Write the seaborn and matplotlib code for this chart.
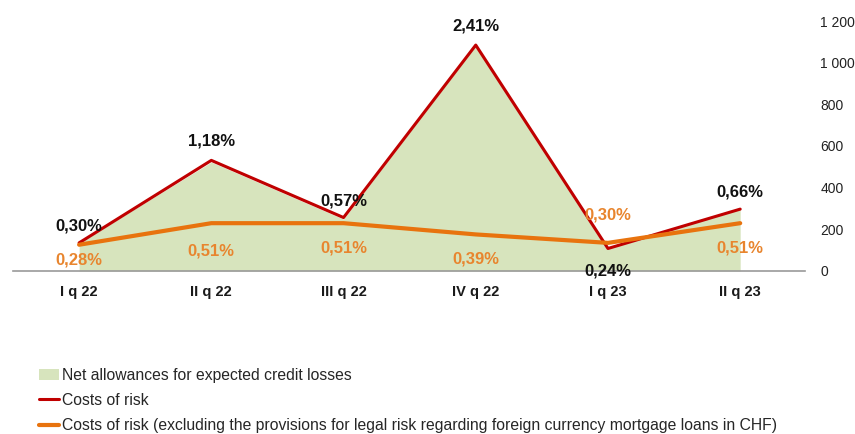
import numpy as np
import pandas as pd
import matplotlib
matplotlib.use("Agg")
import matplotlib.pyplot as plt
import seaborn as sns
from matplotlib.patches import Patch
from matplotlib.lines import Line2D

quarters = ["I q 22", "II q 22", "III q 22", "IV q 22", "I q 23", "II q 23"]
allowances = [134, 523, 249, 1084, 110, 297]          # net allowances (left scale, 0-1200)
cor = [0.30, 1.18, 0.57, 2.41, 0.24, 0.66]            # costs of risk, %
cor_excl = [0.28, 0.51, 0.51, 0.39, 0.30, 0.51]       # costs of risk excl. CHF legal risk, %
yticks = [0, 200, 400, 600, 800, 1000, 1200]

sns.set_style("white")
plt.rcParams["font.family"] = ["Liberation Sans Narrow", "Liberation Sans", "DejaVu Sans"]

df = pd.DataFrame({"q": range(len(quarters)), "allow": allowances,
                   "cor": cor, "excl": cor_excl})

fig = plt.figure(figsize=(8.55, 4.34), dpi=100)
ax = fig.add_axes([0.0152, 0.3756, 0.9263, 0.576])

ax.fill_between(df["q"], 0, df["allow"], color="#D7E4BD", lw=0, zorder=1)
ax.set_xlim(-0.5, 5.49)
ax.set_ylim(0, 1200)

# percentage lines on a hidden twin scale
ax2 = ax.twinx()
ax2.set_position(ax.get_position())
sns.lineplot(data=df, x="q", y="cor", ax=ax2, color="#C00000", lw=2.2, zorder=3)
sns.lineplot(data=df, x="q", y="excl", ax=ax2, color="#E8730E", lw=3, zorder=4)
ax2.set_ylim(0, 1200 / 450)
ax2.set_xlim(-0.5, 5.49)
ax2.axis("off")

ax.set_xticks(range(len(quarters)))
ax.set_xticklabels(quarters, fontsize=10.5, fontweight="bold", color="#1a1a1a")
ax.tick_params(axis="x", length=0, pad=10)
ax.yaxis.tick_right()
ax.set_yticks(yticks)
ax.set_yticklabels([f"{v:,}".replace(",", " ") for v in yticks], fontsize=10, color="#222222")
ax.tick_params(axis="y", length=0, pad=11)
ax.set_xlabel("")
ax.set_ylabel("")
for s in ["top", "right", "left"]:
    ax.spines[s].set_visible(False)
ax.spines["bottom"].set_color("#9a9a9a")
ax.spines["bottom"].set_linewidth(1.2)

# data labels (offsets in points)
red_off = [(0, 12), (0, 14), (0, 12), (0, 14), (0, -16), (0, 12)]
org_off = [(0, -11), (0, -20), (0, -18), (0, -18), (0, 20), (0, -18)]
for i in range(len(quarters)):
    ax2.annotate(f"{cor[i]:.2f}%".replace(".", ","), (i, cor[i]), xytext=red_off[i],
                 textcoords="offset points", ha="center", va="center",
                 fontsize=12, fontweight="bold", color="#111111", annotation_clip=False)
    ax2.annotate(f"{cor_excl[i]:.2f}%".replace(".", ","), (i, cor_excl[i]), xytext=org_off[i],
                 textcoords="offset points", ha="center", va="center",
                 fontsize=12, fontweight="bold", color="#E8852E", annotation_clip=False)

handles = [Patch(facecolor="#D7E4BD", edgecolor="none"),
           Line2D([], [], color="#C00000", lw=2.2),
           Line2D([], [], color="#E8730E", lw=3)]
labels = ["Net allowances for expected credit losses", "Costs of risk",
          "Costs of risk (excluding the provisions for legal risk regarding foreign currency mortgage loans in CHF)"]
fig.legend(handles, labels, loc="upper left", bbox_to_anchor=(0.046, 0.153),
           frameon=False, fontsize=11.3, handlelength=1.25, handletextpad=0.2,
           labelspacing=0.65, borderaxespad=0, borderpad=0, bbox_transform=fig.transFigure)

fig.savefig("out.png", dpi=100)
